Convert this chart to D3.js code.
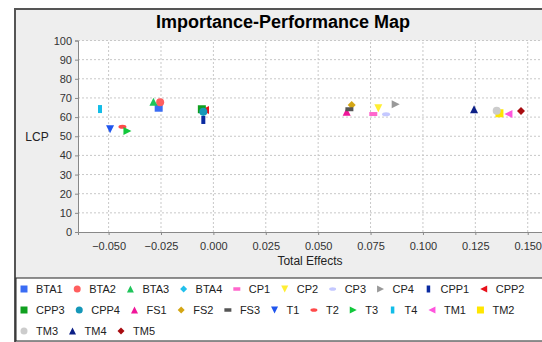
<!DOCTYPE html>
<html>
<head>
<meta charset="utf-8">
<script src="https://cdn.jsdelivr.net/npm/d3@7"></script>
<style>
  body { margin: 0; background: #fff; }
  svg { display: block; font-family: "Liberation Sans", Arial, sans-serif; }
  .grid line { stroke: #c8c8c8; stroke-dasharray: 2,2; }
  .axis path, .axis line { stroke: #888; }
  .axis text { fill: #333; font-size: 11px; }
</style>
</head>
<body>
<div id="chart"></div>
<script>
// constructs, in legend order
var names = ["BTA1", "BTA2", "BTA3", "BTA4", "CP1", "CP2", "CP3", "CP4", "CPP1", "CPP2",
    "CPP3", "CPP4", "FS1", "FS2", "FS3", "T1", "T2", "T3", "T4", "TM1", "TM2",
    "TM3", "TM4", "TM5"];
// total effects (x) and LCP performance (y)
var totalEffects = [-0.0261, -0.0254, -0.0286, -0.0048, 0.0763, 0.0787, 0.0824, 0.0870, -0.0048, -0.0040,
    -0.0055, -0.0048, 0.0636, 0.0660, 0.0649, -0.0493, -0.0434, -0.0410, -0.0541, 0.1408, 0.1365,
    0.1352, 0.1244, 0.1468];
var performance = [64.9, 67.7, 68.0, 62.5, 61.6, 64.6, 61.5, 66.7, 58.5, 63.7,
    64.1, 62.8, 62.8, 66.3, 64.1, 53.6, 55.0, 52.7, 64.2, 61.6, 62.0,
    63.3, 64.1, 63.2];
var xTicks = [-0.050, -0.025, 0.000, 0.025, 0.050, 0.075, 0.100, 0.125, 0.150];
var yTicks = [0, 10, 20, 30, 40, 50, 60, 70, 80, 90, 100];

var palette = ["#3a6cf4", "#ff5f5f", "#1fc45a", "#22c0ec", "#ff66cc", "#ffee33", "#c4c8ff", "#999999", "#0a2aa0", "#e8101a",
    "#10a020", "#1597b8", "#f0169a", "#d4a614", "#555555", "#1f55ee", "#ff4a4a", "#12c83c", "#12bde8", "#ff55dd", "#ffe600",
    "#cccccc", "#0c1f86", "#a80c10"];
var shapeCycle = ["square", "circle", "up", "diamond", "hrect", "down", "ellipse", "right", "vrect", "left"];

var width = 542, height = 342;
var svg = d3.select("#chart").append("svg")
    .attr("width", width)
    .attr("height", height);

// outer panel
svg.append("rect")
    .attr("x", 15).attr("y", 9)
    .attr("width", width).attr("height", height)
    .attr("fill", "#eeeeee")
    .attr("stroke", "#555").attr("stroke-width", 2);

svg.append("text")
    .attr("x", 283).attr("y", 28)
    .attr("text-anchor", "middle")
    .style("font-size", "18px").style("font-weight", "bold")
    .text("Importance-Performance Map");

var x = d3.scaleLinear().domain([-0.0646, 0.1654]).range([78, 560]);
var y = d3.scaleLinear().domain([0, 100]).range([232, 40.5]);

svg.append("rect")
    .attr("x", 78).attr("y", 40.5)
    .attr("width", 560 - 78).attr("height", 232 - 40.5)
    .attr("fill", "#fff");

var grid = svg.append("g").attr("class", "grid");
grid.selectAll(".gx").data(xTicks).enter().append("line")
    .attr("x1", d => x(d)).attr("x2", d => x(d))
    .attr("y1", y(0)).attr("y2", y(100));
grid.selectAll(".gy").data(yTicks.slice(1)).enter().append("line")
    .attr("x1", 78).attr("x2", 560)
    .attr("y1", d => y(d)).attr("y2", d => y(d));

svg.append("g")
    .attr("class", "axis")
    .attr("transform", "translate(0," + y(0) + ")")
    .call(d3.axisBottom(x).tickValues(xTicks).tickFormat(d3.format(".3f")).tickSize(3).tickPadding(5))
    .call(g => g.selectAll("text").attr("dy", "0.9em"));

svg.append("g")
    .attr("class", "axis")
    .attr("transform", "translate(78,0)")
    .call(d3.axisLeft(y).tickValues(yTicks).tickSize(3).tickPadding(3));

svg.append("text")
    .attr("x", 310).attr("y", 265)
    .attr("text-anchor", "middle")
    .style("font-size", "12px").attr("fill", "#222")
    .text("Total Effects");

svg.append("text")
    .attr("x", 37).attr("y", 141)
    .attr("text-anchor", "middle")
    .style("font-size", "12px").attr("fill", "#222")
    .text("LCP");

function shapePath(type, h) {
    switch (type) {
        case "square": return `M${-h},${-h}h${2 * h}v${2 * h}h${-2 * h}Z`;
        case "circle": return `M${-h},0a${h},${h} 0 1,0 ${2 * h},0a${h},${h} 0 1,0 ${-2 * h},0Z`;
        case "up": return `M0,${-h}L${h},${h}L${-h},${h}Z`;
        case "diamond": return `M0,${-h}L${h},0L0,${h}L${-h},0Z`;
        case "hrect": return `M${-h},${-h / 2}h${2 * h}v${h}h${-2 * h}Z`;
        case "down": return `M${-h},${-h}L${h},${-h}L0,${h}Z`;
        case "ellipse": return `M${-h},0a${h},${h / 2} 0 1,0 ${2 * h},0a${h},${h / 2} 0 1,0 ${-2 * h},0Z`;
        case "right": return `M${-h},${-h}L${h},0L${-h},${h}Z`;
        case "vrect": return `M${-h / 2},${-h}h${h}v${2 * h}h${-h}Z`;
        case "left": return `M${h},${-h}L${h},${h}L${-h},0Z`;
    }
}

var points = names.map((n, i) => ({ name: n, x: totalEffects[i], y: performance[i], i: i }));

svg.append("g").selectAll("path")
    .data(points)
    .enter().append("path")
    .attr("transform", d => "translate(" + x(d.x) + "," + y(d.y) + ")")
    .attr("d", d => shapePath(shapeCycle[d.i % 10], 4))
    .attr("fill", d => palette[d.i]);

// legend box
svg.append("rect")
    .attr("x", 16).attr("y", 278)
    .attr("width", width).attr("height", 63)
    .attr("fill", "#fff").attr("stroke", "#222").attr("stroke-width", 1);

var legend = svg.append("g");
var lx = 24, ly = 289, maxX = 532;
var textGap = 12, itemGap = 11;
points.forEach(function (d) {
    if (lx > 24) {
        var probe = legend.append("text").style("font-size", "11px").text(d.name);
        var w = probe.node().getComputedTextLength();
        probe.remove();
        if (lx + textGap + w > maxX) { lx = 24; ly += 21; }
    }
    legend.append("path")
        .attr("transform", "translate(" + lx + "," + ly + ")")
        .attr("d", shapePath(shapeCycle[d.i % 10], 3.5))
        .attr("fill", palette[d.i]);
    var t = legend.append("text")
        .attr("x", lx + textGap).attr("y", ly + 4)
        .style("font-size", "11px").attr("fill", "#222")
        .text(d.name);
    lx = lx + textGap + t.node().getComputedTextLength() + itemGap + 3.5;
});
</script>
</body>
</html>
